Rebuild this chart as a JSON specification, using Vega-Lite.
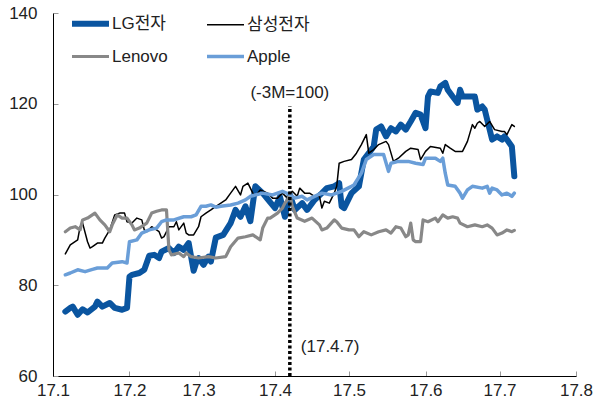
{
  "$schema": "https://vega.github.io/schema/vega-lite/v6.json",
  "autosize": "none",
  "padding": {"left": 53, "top": 13, "right": 21, "bottom": 34},
  "width": 523,
  "height": 363,
  "background": "white",
  "config": {
    "view": {"stroke": null},
    "font": "Liberation Sans, Noto Sans CJK KR",
    "axis": {"grid": false, "domainColor": "#000", "domainWidth": 1, "tickColor": "#999", "tickSize": -5, "labelFontSize": 17, "labelColor": "#222", "labelFont": "Liberation Sans, Noto Sans CJK KR"},
    "axisX": {"labelPadding": 11, "labelFlush": false, "labelOverlap": false},
    "axisY": {"labelPadding": 21}
  },
  "datasets": {
    "series": [
      {"d":"2017-01-06","s":"LG전자","v":74.2},{"d":"2017-01-08","s":"LG전자","v":75.0},{"d":"2017-01-09","s":"LG전자","v":75.3},{"d":"2017-01-11","s":"LG전자","v":73.5},{"d":"2017-01-13","s":"LG전자","v":74.7},{"d":"2017-01-15","s":"LG전자","v":74.0},{"d":"2017-01-18","s":"LG전자","v":75.3},{"d":"2017-01-19","s":"LG전자","v":76.4},{"d":"2017-01-21","s":"LG전자","v":75.3},{"d":"2017-01-24","s":"LG전자","v":76.1},{"d":"2017-01-26","s":"LG전자","v":75.0},{"d":"2017-01-29","s":"LG전자","v":74.6},{"d":"2017-01-31","s":"LG전자","v":75.0},
      {"d":"2017-02-01","s":"LG전자","v":81.9},{"d":"2017-02-02","s":"LG전자","v":82.3},{"d":"2017-02-05","s":"LG전자","v":82.7},{"d":"2017-02-07","s":"LG전자","v":83.4},{"d":"2017-02-09","s":"LG전자","v":86.5},{"d":"2017-02-11","s":"LG전자","v":86.7},{"d":"2017-02-13","s":"LG전자","v":86.0},{"d":"2017-02-14","s":"LG전자","v":87.4},{"d":"2017-02-17","s":"LG전자","v":88.2},{"d":"2017-02-19","s":"LG전자","v":87.1},{"d":"2017-02-21","s":"LG전자","v":88.5},{"d":"2017-02-23","s":"LG전자","v":87.8},{"d":"2017-02-25","s":"LG전자","v":89.3},{"d":"2017-02-27","s":"LG전자","v":83.2},{"d":"2017-02-28","s":"LG전자","v":84.9},
      {"d":"2017-03-01","s":"LG전자","v":86.0},{"d":"2017-03-03","s":"LG전자","v":84.5},{"d":"2017-03-05","s":"LG전자","v":86.3},{"d":"2017-03-06","s":"LG전자","v":85.2},{"d":"2017-03-08","s":"LG전자","v":90.5},{"d":"2017-03-11","s":"LG전자","v":91.1},{"d":"2017-03-14","s":"LG전자","v":93.7},{"d":"2017-03-16","s":"LG전자","v":96.6},{"d":"2017-03-18","s":"LG전자","v":95.1},{"d":"2017-03-20","s":"LG전자","v":97.4},{"d":"2017-03-22","s":"LG전자","v":94.1},{"d":"2017-03-24","s":"LG전자","v":101.8},{"d":"2017-03-27","s":"LG전자","v":100.3},{"d":"2017-03-30","s":"LG전자","v":98.3},
      {"d":"2017-04-01","s":"LG전자","v":97.0},{"d":"2017-04-03","s":"LG전자","v":99.5},{"d":"2017-04-05","s":"LG전자","v":95.1},{"d":"2017-04-07","s":"LG전자","v":100.0},{"d":"2017-04-09","s":"LG전자","v":96.6},{"d":"2017-04-12","s":"LG전자","v":98.1},{"d":"2017-04-14","s":"LG전자","v":96.6},{"d":"2017-04-17","s":"LG전자","v":98.8},{"d":"2017-04-20","s":"LG전자","v":100.3},{"d":"2017-04-22","s":"LG전자","v":101.4},{"d":"2017-04-25","s":"LG전자","v":101.8},{"d":"2017-04-27","s":"LG전자","v":102.5},{"d":"2017-04-28","s":"LG전자","v":97.4},{"d":"2017-04-29","s":"LG전자","v":97.0},
      {"d":"2017-05-02","s":"LG전자","v":100.3},{"d":"2017-05-05","s":"LG전자","v":101.8},{"d":"2017-05-07","s":"LG전자","v":107.7},{"d":"2017-05-09","s":"LG전자","v":109.1},{"d":"2017-05-11","s":"LG전자","v":110.6},{"d":"2017-05-12","s":"LG전자","v":114.3},{"d":"2017-05-14","s":"LG전자","v":115.0},{"d":"2017-05-16","s":"LG전자","v":112.8},{"d":"2017-05-18","s":"LG전자","v":114.6},{"d":"2017-05-20","s":"LG전자","v":113.9},{"d":"2017-05-22","s":"LG전자","v":115.4},{"d":"2017-05-24","s":"LG전자","v":114.3},{"d":"2017-05-26","s":"LG전자","v":116.1},{"d":"2017-05-28","s":"LG전자","v":118.0},{"d":"2017-05-30","s":"LG전자","v":117.6},
      {"d":"2017-06-01","s":"LG전자","v":114.6},{"d":"2017-06-02","s":"LG전자","v":121.6},{"d":"2017-06-03","s":"LG전자","v":122.7},{"d":"2017-06-06","s":"LG전자","v":122.4},{"d":"2017-06-07","s":"LG전자","v":123.8},{"d":"2017-06-09","s":"LG전자","v":124.6},{"d":"2017-06-10","s":"LG전자","v":123.1},{"d":"2017-06-12","s":"LG전자","v":121.6},{"d":"2017-06-14","s":"LG전자","v":120.2},{"d":"2017-06-15","s":"LG전자","v":123.1},{"d":"2017-06-16","s":"LG전자","v":121.6},{"d":"2017-06-19","s":"LG전자","v":121.6},{"d":"2017-06-21","s":"LG전자","v":121.6},{"d":"2017-06-22","s":"LG전자","v":118.7},{"d":"2017-06-24","s":"LG전자","v":119.4},{"d":"2017-06-25","s":"LG전자","v":118.7},{"d":"2017-06-26","s":"LG전자","v":116.5},{"d":"2017-06-28","s":"LG전자","v":112.1},{"d":"2017-06-30","s":"LG전자","v":112.8},
      {"d":"2017-07-02","s":"LG전자","v":112.1},{"d":"2017-07-03","s":"LG전자","v":112.8},{"d":"2017-07-04","s":"LG전자","v":112.1},{"d":"2017-07-06","s":"LG전자","v":110.6},{"d":"2017-07-07","s":"LG전자","v":104.0},

      {"d":"2017-01-06","s":"삼성전자","v":86.9},{"d":"2017-01-08","s":"삼성전자","v":88.9},{"d":"2017-01-11","s":"삼성전자","v":90.0},{"d":"2017-01-12","s":"삼성전자","v":92.9},{"d":"2017-01-13","s":"삼성전자","v":93.7},{"d":"2017-01-15","s":"삼성전자","v":89.6},{"d":"2017-01-16","s":"삼성전자","v":88.2},{"d":"2017-01-17","s":"삼성전자","v":88.5},{"d":"2017-01-19","s":"삼성전자","v":89.3},{"d":"2017-01-21","s":"삼성전자","v":89.3},{"d":"2017-01-22","s":"삼성전자","v":90.4},{"d":"2017-01-24","s":"삼성전자","v":92.2},{"d":"2017-01-26","s":"삼성전자","v":95.5},{"d":"2017-01-28","s":"삼성전자","v":95.9},{"d":"2017-01-30","s":"삼성전자","v":95.9},{"d":"2017-01-31","s":"삼성전자","v":94.0},
      {"d":"2017-02-02","s":"삼성전자","v":93.7},{"d":"2017-02-04","s":"삼성전자","v":94.8},{"d":"2017-02-06","s":"삼성전자","v":94.4},{"d":"2017-02-07","s":"삼성전자","v":92.2},{"d":"2017-02-08","s":"삼성전자","v":91.8},{"d":"2017-02-10","s":"삼성전자","v":92.9},{"d":"2017-02-13","s":"삼성전자","v":91.8},{"d":"2017-02-14","s":"삼성전자","v":90.4},{"d":"2017-02-15","s":"삼성전자","v":90.7},{"d":"2017-02-17","s":"삼성전자","v":92.9},{"d":"2017-02-19","s":"삼성전자","v":92.9},{"d":"2017-02-20","s":"삼성전자","v":94.0},{"d":"2017-02-21","s":"삼성전자","v":92.2},{"d":"2017-02-23","s":"삼성전자","v":93.7},{"d":"2017-02-24","s":"삼성전자","v":91.5},{"d":"2017-02-25","s":"삼성전자","v":91.1},{"d":"2017-02-27","s":"삼성전자","v":91.1},
      {"d":"2017-03-01","s":"삼성전자","v":92.9},{"d":"2017-03-02","s":"삼성전자","v":95.1},{"d":"2017-03-04","s":"삼성전자","v":95.9},{"d":"2017-03-06","s":"삼성전자","v":96.6},{"d":"2017-03-07","s":"삼성전자","v":97.0},{"d":"2017-03-09","s":"삼성전자","v":97.7},{"d":"2017-03-12","s":"삼성전자","v":98.8},{"d":"2017-03-14","s":"삼성전자","v":100.3},{"d":"2017-03-16","s":"삼성전자","v":101.8},{"d":"2017-03-18","s":"삼성전자","v":99.9},{"d":"2017-03-19","s":"삼성전자","v":101.8},{"d":"2017-03-21","s":"삼성전자","v":102.5},{"d":"2017-03-23","s":"삼성전자","v":100.3},{"d":"2017-03-24","s":"삼성전자","v":99.6},{"d":"2017-03-26","s":"삼성전자","v":101.0},{"d":"2017-03-29","s":"삼성전자","v":100.3},{"d":"2017-03-31","s":"삼성전자","v":99.2},
      {"d":"2017-04-02","s":"삼성전자","v":99.2},{"d":"2017-04-04","s":"삼성전자","v":100.3},{"d":"2017-04-06","s":"삼성전자","v":99.2},{"d":"2017-04-07","s":"삼성전자","v":100.0},{"d":"2017-04-08","s":"삼성전자","v":100.7},{"d":"2017-04-10","s":"삼성전자","v":99.6},{"d":"2017-04-11","s":"삼성전자","v":101.4},{"d":"2017-04-13","s":"삼성전자","v":100.3},{"d":"2017-04-15","s":"삼성전자","v":100.3},{"d":"2017-04-17","s":"삼성전자","v":99.6},{"d":"2017-04-19","s":"삼성전자","v":99.6},{"d":"2017-04-20","s":"삼성전자","v":97.0},{"d":"2017-04-21","s":"삼성전자","v":98.5},{"d":"2017-04-23","s":"삼성전자","v":98.1},{"d":"2017-04-25","s":"삼성전자","v":100.3},{"d":"2017-04-26","s":"삼성전자","v":101.8},{"d":"2017-04-27","s":"삼성전자","v":106.9},{"d":"2017-04-29","s":"삼성전자","v":107.3},
      {"d":"2017-05-02","s":"삼성전자","v":107.7},{"d":"2017-05-04","s":"삼성전자","v":109.1},{"d":"2017-05-06","s":"삼성전자","v":111.0},{"d":"2017-05-08","s":"삼성전자","v":113.2},{"d":"2017-05-09","s":"삼성전자","v":109.1},{"d":"2017-05-11","s":"삼성전자","v":109.9},{"d":"2017-05-13","s":"삼성전자","v":111.0},{"d":"2017-05-16","s":"삼성전자","v":111.7},{"d":"2017-05-17","s":"삼성전자","v":111.0},{"d":"2017-05-19","s":"삼성전자","v":107.3},{"d":"2017-05-21","s":"삼성전자","v":108.0},{"d":"2017-05-24","s":"삼성전자","v":109.5},{"d":"2017-05-26","s":"삼성전자","v":110.2},{"d":"2017-05-29","s":"삼성전자","v":109.9},{"d":"2017-05-30","s":"삼성전자","v":107.7},
      {"d":"2017-06-01","s":"삼성전자","v":109.5},{"d":"2017-06-03","s":"삼성전자","v":110.6},{"d":"2017-06-07","s":"삼성전자","v":110.2},{"d":"2017-06-08","s":"삼성전자","v":109.1},{"d":"2017-06-09","s":"삼성전자","v":111.0},{"d":"2017-06-11","s":"삼성전자","v":110.2},{"d":"2017-06-13","s":"삼성전자","v":109.5},{"d":"2017-06-16","s":"삼성전자","v":109.5},{"d":"2017-06-18","s":"삼성전자","v":111.7},{"d":"2017-06-20","s":"삼성전자","v":115.4},{"d":"2017-06-21","s":"삼성전자","v":114.6},{"d":"2017-06-22","s":"삼성전자","v":115.7},{"d":"2017-06-23","s":"삼성전자","v":116.1},{"d":"2017-06-25","s":"삼성전자","v":115.0},{"d":"2017-06-27","s":"삼성전자","v":116.1},{"d":"2017-06-29","s":"삼성전자","v":114.3},
      {"d":"2017-07-02","s":"삼성전자","v":113.9},{"d":"2017-07-03","s":"삼성전자","v":113.9},{"d":"2017-07-04","s":"삼성전자","v":113.2},{"d":"2017-07-06","s":"삼성전자","v":115.4},{"d":"2017-07-07","s":"삼성전자","v":115.0},

      {"d":"2017-01-06","s":"Lenovo","v":91.8},{"d":"2017-01-08","s":"Lenovo","v":92.6},{"d":"2017-01-10","s":"Lenovo","v":92.9},{"d":"2017-01-12","s":"Lenovo","v":92.2},{"d":"2017-01-13","s":"Lenovo","v":94.4},{"d":"2017-01-15","s":"Lenovo","v":94.8},{"d":"2017-01-18","s":"Lenovo","v":95.9},{"d":"2017-01-20","s":"Lenovo","v":94.4},{"d":"2017-01-22","s":"Lenovo","v":93.3},{"d":"2017-01-24","s":"Lenovo","v":91.8},{"d":"2017-01-25","s":"Lenovo","v":93.3},{"d":"2017-01-27","s":"Lenovo","v":95.5},{"d":"2017-01-29","s":"Lenovo","v":94.8},{"d":"2017-01-31","s":"Lenovo","v":94.8},
      {"d":"2017-02-02","s":"Lenovo","v":93.3},{"d":"2017-02-03","s":"Lenovo","v":92.2},{"d":"2017-02-05","s":"Lenovo","v":92.6},{"d":"2017-02-08","s":"Lenovo","v":93.7},{"d":"2017-02-10","s":"Lenovo","v":95.9},{"d":"2017-02-12","s":"Lenovo","v":96.3},{"d":"2017-02-14","s":"Lenovo","v":96.6},{"d":"2017-02-16","s":"Lenovo","v":96.6},{"d":"2017-02-17","s":"Lenovo","v":87.8},{"d":"2017-02-18","s":"Lenovo","v":86.7},{"d":"2017-02-21","s":"Lenovo","v":87.1},{"d":"2017-02-23","s":"Lenovo","v":86.3},{"d":"2017-02-24","s":"Lenovo","v":87.1},{"d":"2017-02-26","s":"Lenovo","v":86.3},
      {"d":"2017-03-01","s":"Lenovo","v":86.0},{"d":"2017-03-05","s":"Lenovo","v":86.3},{"d":"2017-03-08","s":"Lenovo","v":86.0},{"d":"2017-03-12","s":"Lenovo","v":86.3},{"d":"2017-03-14","s":"Lenovo","v":88.5},{"d":"2017-03-17","s":"Lenovo","v":90.4},{"d":"2017-03-20","s":"Lenovo","v":90.7},{"d":"2017-03-23","s":"Lenovo","v":91.1},{"d":"2017-03-26","s":"Lenovo","v":90.0},{"d":"2017-03-27","s":"Lenovo","v":92.6},{"d":"2017-03-29","s":"Lenovo","v":94.8},{"d":"2017-03-30","s":"Lenovo","v":94.8},
      {"d":"2017-04-02","s":"Lenovo","v":95.9},{"d":"2017-04-04","s":"Lenovo","v":97.0},{"d":"2017-04-05","s":"Lenovo","v":98.1},{"d":"2017-04-06","s":"Lenovo","v":98.8},{"d":"2017-04-07","s":"Lenovo","v":100.0},{"d":"2017-04-08","s":"Lenovo","v":97.4},{"d":"2017-04-10","s":"Lenovo","v":94.8},{"d":"2017-04-13","s":"Lenovo","v":94.1},{"d":"2017-04-16","s":"Lenovo","v":94.8},{"d":"2017-04-19","s":"Lenovo","v":93.3},{"d":"2017-04-20","s":"Lenovo","v":92.2},{"d":"2017-04-22","s":"Lenovo","v":92.6},{"d":"2017-04-25","s":"Lenovo","v":94.4},{"d":"2017-04-26","s":"Lenovo","v":94.0},{"d":"2017-04-28","s":"Lenovo","v":92.6},
      {"d":"2017-05-01","s":"Lenovo","v":92.2},{"d":"2017-05-03","s":"Lenovo","v":92.2},{"d":"2017-05-05","s":"Lenovo","v":90.7},{"d":"2017-05-07","s":"Lenovo","v":91.8},{"d":"2017-05-10","s":"Lenovo","v":91.1},{"d":"2017-05-13","s":"Lenovo","v":91.8},{"d":"2017-05-16","s":"Lenovo","v":92.2},{"d":"2017-05-18","s":"Lenovo","v":91.5},{"d":"2017-05-20","s":"Lenovo","v":92.9},{"d":"2017-05-22","s":"Lenovo","v":92.6},{"d":"2017-05-24","s":"Lenovo","v":90.7},{"d":"2017-05-25","s":"Lenovo","v":91.1},{"d":"2017-05-26","s":"Lenovo","v":93.7},{"d":"2017-05-27","s":"Lenovo","v":90.0},{"d":"2017-05-28","s":"Lenovo","v":89.6},{"d":"2017-05-30","s":"Lenovo","v":89.6},{"d":"2017-05-31","s":"Lenovo","v":94.4},
      {"d":"2017-06-02","s":"Lenovo","v":94.0},{"d":"2017-06-05","s":"Lenovo","v":94.8},{"d":"2017-06-06","s":"Lenovo","v":94.0},{"d":"2017-06-08","s":"Lenovo","v":95.5},{"d":"2017-06-10","s":"Lenovo","v":94.8},{"d":"2017-06-12","s":"Lenovo","v":95.1},{"d":"2017-06-14","s":"Lenovo","v":94.8},{"d":"2017-06-15","s":"Lenovo","v":93.7},{"d":"2017-06-18","s":"Lenovo","v":92.9},{"d":"2017-06-21","s":"Lenovo","v":93.3},{"d":"2017-06-24","s":"Lenovo","v":92.9},{"d":"2017-06-26","s":"Lenovo","v":93.3},{"d":"2017-06-28","s":"Lenovo","v":92.6},{"d":"2017-06-30","s":"Lenovo","v":91.1},
      {"d":"2017-07-02","s":"Lenovo","v":91.5},{"d":"2017-07-04","s":"Lenovo","v":92.2},{"d":"2017-07-06","s":"Lenovo","v":91.8},{"d":"2017-07-07","s":"Lenovo","v":92.1},

      {"d":"2017-01-06","s":"Apple","v":82.3},{"d":"2017-01-08","s":"Apple","v":82.7},{"d":"2017-01-11","s":"Apple","v":83.4},{"d":"2017-01-14","s":"Apple","v":83.0},{"d":"2017-01-17","s":"Apple","v":83.5},{"d":"2017-01-19","s":"Apple","v":83.8},{"d":"2017-01-23","s":"Apple","v":83.8},{"d":"2017-01-25","s":"Apple","v":84.9},{"d":"2017-01-29","s":"Apple","v":85.2},{"d":"2017-01-31","s":"Apple","v":84.9},
      {"d":"2017-02-01","s":"Apple","v":89.6},{"d":"2017-02-04","s":"Apple","v":90.0},{"d":"2017-02-06","s":"Apple","v":91.5},{"d":"2017-02-09","s":"Apple","v":92.2},{"d":"2017-02-12","s":"Apple","v":92.6},{"d":"2017-02-14","s":"Apple","v":94.0},{"d":"2017-02-16","s":"Apple","v":94.4},{"d":"2017-02-19","s":"Apple","v":94.4},{"d":"2017-02-23","s":"Apple","v":95.1},{"d":"2017-02-26","s":"Apple","v":95.1},{"d":"2017-02-28","s":"Apple","v":95.5},
      {"d":"2017-03-02","s":"Apple","v":97.4},{"d":"2017-03-04","s":"Apple","v":97.4},{"d":"2017-03-06","s":"Apple","v":97.7},{"d":"2017-03-08","s":"Apple","v":97.2},{"d":"2017-03-10","s":"Apple","v":97.4},{"d":"2017-03-14","s":"Apple","v":97.7},{"d":"2017-03-17","s":"Apple","v":98.1},{"d":"2017-03-20","s":"Apple","v":98.8},{"d":"2017-03-22","s":"Apple","v":99.6},{"d":"2017-03-27","s":"Apple","v":100.3},{"d":"2017-03-31","s":"Apple","v":99.9},
      {"d":"2017-04-04","s":"Apple","v":100.7},{"d":"2017-04-07","s":"Apple","v":100.0},{"d":"2017-04-09","s":"Apple","v":99.2},{"d":"2017-04-12","s":"Apple","v":99.6},{"d":"2017-04-14","s":"Apple","v":98.8},{"d":"2017-04-17","s":"Apple","v":99.6},{"d":"2017-04-20","s":"Apple","v":100.3},{"d":"2017-04-24","s":"Apple","v":99.9},{"d":"2017-04-28","s":"Apple","v":100.7},
      {"d":"2017-05-02","s":"Apple","v":101.8},{"d":"2017-05-03","s":"Apple","v":102.1},{"d":"2017-05-06","s":"Apple","v":104.7},{"d":"2017-05-08","s":"Apple","v":107.7},{"d":"2017-05-11","s":"Apple","v":108.8},{"d":"2017-05-15","s":"Apple","v":108.8},{"d":"2017-05-17","s":"Apple","v":105.1},{"d":"2017-05-18","s":"Apple","v":106.9},{"d":"2017-05-21","s":"Apple","v":107.3},{"d":"2017-05-25","s":"Apple","v":107.3},{"d":"2017-05-28","s":"Apple","v":106.9},{"d":"2017-05-31","s":"Apple","v":106.6},
      {"d":"2017-06-01","s":"Apple","v":108.0},{"d":"2017-06-05","s":"Apple","v":108.0},{"d":"2017-06-07","s":"Apple","v":107.3},{"d":"2017-06-08","s":"Apple","v":108.0},{"d":"2017-06-09","s":"Apple","v":104.7},{"d":"2017-06-10","s":"Apple","v":102.1},{"d":"2017-06-13","s":"Apple","v":101.8},{"d":"2017-06-15","s":"Apple","v":100.3},{"d":"2017-06-16","s":"Apple","v":99.2},{"d":"2017-06-18","s":"Apple","v":101.0},{"d":"2017-06-20","s":"Apple","v":101.8},{"d":"2017-06-24","s":"Apple","v":101.4},{"d":"2017-06-26","s":"Apple","v":101.8},{"d":"2017-06-27","s":"Apple","v":100.3},{"d":"2017-06-28","s":"Apple","v":101.4},{"d":"2017-06-30","s":"Apple","v":101.0},
      {"d":"2017-07-02","s":"Apple","v":99.9},{"d":"2017-07-04","s":"Apple","v":100.3},{"d":"2017-07-06","s":"Apple","v":99.6},{"d":"2017-07-07","s":"Apple","v":100.3}
    ],
    "event": [
      {"d": "2017-04-07", "lo": 60, "hi": 119.5, "top": 122.4, "bottom": 66.4, "topLabel": "(-3M=100)", "bottomLabel": "(17.4.7)"}
    ]
  },
  "layer": [
    {
      "data": {"name": "series"},
      "mark": {"type": "line", "strokeCap": "round", "strokeJoin": "round"},
      "encoding": {
        "x": {"field": "d", "type": "temporal",
              "scale": {"domain": [{"year": 2017, "month": 1, "date": 1}, {"year": 2017, "month": 8, "date": 1}]},
              "axis": {"title": null, "format": "%y.%-m",
                       "values": [{"year": 2017, "month": 1, "date": 1}, {"year": 2017, "month": 2, "date": 1}, {"year": 2017, "month": 3, "date": 1}, {"year": 2017, "month": 4, "date": 1}, {"year": 2017, "month": 5, "date": 1}, {"year": 2017, "month": 6, "date": 1}, {"year": 2017, "month": 7, "date": 1}, {"year": 2017, "month": 8, "date": 1}]}},
        "y": {"field": "v", "type": "quantitative",
              "scale": {"domain": [60, 140], "nice": false, "zero": false},
              "axis": {"title": null, "values": [60, 80, 100, 120, 140]}},
        "color": {"field": "s", "type": "nominal",
                  "scale": {"domain": ["LG전자", "삼성전자", "Lenovo", "Apple"], "range": ["#0A55A0", "#000000", "#888888", "#6A9ED8"]},
                  "legend": {"orient": "none", "legendX": 16, "legendY": -11, "columns": 2, "direction": "horizontal", "title": null, "symbolType": "stroke", "symbolSize": 1369, "labelFontSize": 17, "labelOffset": 0, "columnPadding": 32, "rowPadding": -4, "labelColor": "#222", "labelFont": "Liberation Sans, Noto Sans CJK KR", "padding": 0}},
        "strokeWidth": {"field": "s", "type": "nominal",
                        "scale": {"type": "ordinal", "domain": ["LG전자", "삼성전자", "Lenovo", "Apple"], "range": [6, 1.5, 3.2, 3.5]},
                        "legend": {"orient": "none", "legendX": 16, "legendY": -11, "columns": 2, "direction": "horizontal", "title": null, "symbolType": "stroke", "symbolSize": 1369, "labelFontSize": 17, "labelOffset": 0, "columnPadding": 32, "rowPadding": -4, "labelColor": "#222", "labelFont": "Liberation Sans, Noto Sans CJK KR", "padding": 0}}
      }
    },
    {
      "data": {"name": "event"},
      "mark": {"type": "rule", "color": "#000", "strokeWidth": 3.5, "strokeDash": [3, 2.5]},
      "encoding": {
        "x": {"field": "d", "type": "temporal", "title": null},
        "y": {"field": "lo", "type": "quantitative", "title": null},
        "y2": {"field": "hi"}
      }
    },
    {
      "data": {"name": "event"},
      "mark": {"type": "text", "fontSize": 17, "align": "center", "baseline": "middle", "color": "#222", "font": "Liberation Sans, Noto Sans CJK KR"},
      "encoding": {
        "x": {"field": "d", "type": "temporal", "title": null},
        "y": {"field": "top", "type": "quantitative", "title": null},
        "text": {"field": "topLabel"}
      }
    },
    {
      "data": {"name": "event"},
      "mark": {"type": "text", "fontSize": 17, "align": "left", "baseline": "middle", "dx": 11, "color": "#222", "font": "Liberation Sans, Noto Sans CJK KR"},
      "encoding": {
        "x": {"field": "d", "type": "temporal", "title": null},
        "y": {"field": "bottom", "type": "quantitative", "title": null},
        "text": {"field": "bottomLabel"}
      }
    }
  ]
}
